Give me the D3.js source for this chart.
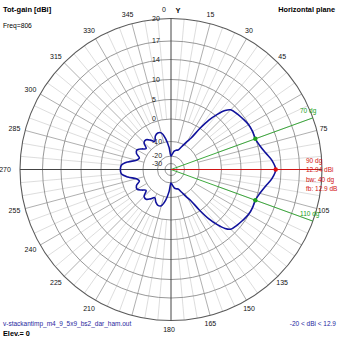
<!DOCTYPE html>
<html>
<head>
<meta charset="utf-8">
<script src="https://cdn.jsdelivr.net/npm/d3@7"></script>
<style>
  html, body { margin: 0; padding: 0; background: #fff; }
  svg { display: block; font-family: "Liberation Sans", Arial, sans-serif; }
</style>
</head>
<body>
<script>
// Horizontal-plane radiation pattern, total gain in dBi (0 deg = Y, clockwise).
const azimuth = [0, 5, 10, 15, 20, 25, 30, 32.5, 35, 37.5, 40, 42.5, 45, 50, 55, 60, 65, 70, 75, 80, 85, 90,
  95, 100, 105, 110, 115, 120, 125, 130, 135, 137.5, 140, 142.5, 145, 147.5, 150, 155, 160, 165, 170, 175,
  180, 185, 190, 195, 200, 205, 210, 215, 220, 225, 230, 235, 240, 245, 250, 255, 260, 265,
  270, 275, 280, 285, 290, 295, 300, 305, 310, 315, 320, 325, 330, 335, 340, 345, 350, 355];
const gainDbi = [-20, -18.5, -16.5, -15.5, -15, -12, -8, -6, -0.5, 3, 5.5, 7.5, 8.6, 9.1, 9.5, 9.9, 10.0, 9.94, 10.4, 11.2, 12.3, 12.94,
  12.3, 11.2, 10.4, 9.94, 10.0, 9.9, 9.5, 9.1, 8.6, 7.5, 5.5, 3, -0.5, -6, -8, -12, -15, -15.5, -16.5, -18.5,
  -20, -14, -8.5, -5.8, -5.5, -6.5, -8, -6.5, -5.2, -5.5, -8, -6.5, -5, -5.5, -7.5, -6.5, -3, -0.3,
  0.04, -0.3, -3, -6.5, -7.5, -5.5, -5, -6.5, -8, -5.5, -5.2, -6.5, -8, -6, -5.2, -5.6, -8.5, -14];

// Grid rings (dBi) and azimuth tick labels
const ringLabels = [20, 17, 14, 10, 5, 0, -10, -20, -30];
const angleLabels = [15, 30, 45, 75, 105, 135, 150, 165, 180, 210, 225, 240, 255, 270, 285, 300, 315, 330, 345];

// Beam summary
const maxDir = 90, maxGain = 12.94;
const beamEdges = [70, 110], edgeGain = 9.94;
const summary = ["90 dg", "12.94 dBi", "bw: 40 dg", "fb: 12.9 dB"];

const W = 339, H = 339, cx = 171, cy = 169.5, R = 151;

const svg = d3.select("body").append("svg").attr("width", W).attr("height", H);
svg.append("rect").attr("width", W).attr("height", H).attr("fill", "#fff");

// Log-like radial gain scale of the plot
const r = d3.scaleLinear()
  .domain([-30, -20, -10, 0, 5, 10, 14, 17, 20])
  .range([6, 13.5, 28, 50.5, 70, 90, 110, 128.5, R])
  .clamp(true);

const g = svg.append("g").attr("transform", `translate(${cx},${cy})`);
const rad = a => (a - 90) * Math.PI / 180;
const px = (a, rr) => rr * Math.cos(rad(a));
const py = (a, rr) => rr * Math.sin(rad(a));

// Minor radials every 5 deg
g.append("g").selectAll("line")
  .data(d3.range(0, 360, 5).filter(a => a % 15 !== 0))
  .join("line")
  .attr("x1", a => px(a, r(0))).attr("y1", a => py(a, r(0)))
  .attr("x2", a => px(a, R)).attr("y2", a => py(a, R))
  .attr("stroke", "#d4d4d4").attr("stroke-width", 0.8);

// Major radials every 15 deg
g.append("g").selectAll("line")
  .data(d3.range(0, 360, 15).filter(a => a % 90 !== 0))
  .join("line")
  .attr("x1", a => px(a, r(-10))).attr("y1", a => py(a, r(-10)))
  .attr("x2", a => px(a, R)).attr("y2", a => py(a, R))
  .attr("stroke", "#9a9a9a").attr("stroke-width", 0.8);

// Rings
g.append("g").selectAll("circle")
  .data(ringLabels.slice(1))
  .join("circle")
  .attr("r", d => r(d))
  .attr("fill", "none").attr("stroke", "#8c8c8c").attr("stroke-width", 0.9);

g.append("circle").attr("r", R).attr("fill", "none").attr("stroke", "#5a5a5a").attr("stroke-width", 1.1);

// Main axes
g.append("line").attr("x1", -R).attr("x2", R).attr("y1", 0).attr("y2", 0)
  .attr("stroke", "#444").attr("stroke-width", 1);
g.append("line").attr("x1", 0).attr("x2", 0).attr("y1", -R).attr("y2", R)
  .attr("stroke", "#444").attr("stroke-width", 1);

// Ring labels
g.append("g").selectAll("text")
  .data(ringLabels)
  .join("text")
  .attr("x", -19).attr("y", d => -r(d))
  .attr("dy", "0.35em")
  .attr("font-size", 7).attr("fill", "#222")
  .text(d => d);

// Azimuth labels
g.append("g").selectAll("text")
  .data(angleLabels)
  .join("text")
  .attr("x", a => px(a, a === 270 ? 164 : 160) - 2)
  .attr("y", a => py(a, 160))
  .attr("text-anchor", "middle").attr("dy", "0.35em")
  .attr("font-size", 7).attr("fill", "#111")
  .text(a => a);
svg.append("text").attr("x", 164).attr("y", 12).attr("text-anchor", "middle")
  .attr("font-size", 7).attr("fill", "#111").text("0");
svg.append("text").attr("x", 178).attr("y", 13).attr("text-anchor", "middle")
  .attr("font-size", 7.5).attr("font-weight", "bold").attr("fill", "#111").text("Y");

// Beam-width and max-gain direction lines
g.append("g").selectAll("line")
  .data(beamEdges)
  .join("line")
  .attr("x1", 0).attr("y1", 0)
  .attr("x2", a => px(a, R)).attr("y2", a => py(a, R))
  .attr("stroke", "#28a028").attr("stroke-width", 0.9);
g.append("line").attr("x1", 0).attr("y1", 0)
  .attr("x2", px(maxDir, 146)).attr("y2", py(maxDir, 146))
  .attr("stroke", "#e01010").attr("stroke-width", 0.9);

// Pattern
const pts = azimuth.map((a, i) => [a * Math.PI / 180, r(gainDbi[i])]);
g.append("path")
  .attr("d", d3.lineRadial().curve(d3.curveCatmullRomClosed.alpha(0.5))(pts))
  .attr("fill", "none").attr("stroke", "#10129c").attr("stroke-width", 1.6);

// Markers
g.append("g").selectAll("circle")
  .data(beamEdges)
  .join("circle")
  .attr("cx", a => px(a, r(edgeGain))).attr("cy", a => py(a, r(edgeGain)))
  .attr("r", 2.2).attr("fill", "#20a020");
g.append("circle").attr("cx", px(maxDir, r(maxGain))).attr("cy", py(maxDir, r(maxGain)))
  .attr("r", 2.2).attr("fill", "#e01010");

// Beam labels
svg.append("text").attr("x", 300).attr("y", 113).attr("font-size", 6.5).attr("fill", "#20a020").text(beamEdges[0] + " dg");
svg.append("text").attr("x", 300).attr("y", 216).attr("font-size", 6.5).attr("fill", "#20a020").text(beamEdges[1] + " dg");
svg.append("g").selectAll("text")
  .data(summary)
  .join("text")
  .attr("x", 306).attr("y", (d, i) => 163 + i * 9.3)
  .attr("font-size", 6.5).attr("fill", "#d01010")
  .text(d => d);

// Titles and footers
svg.append("text").attr("x", 3).attr("y", 12).attr("font-size", 7.5).attr("font-weight", "bold").text("Tot-gain [dBi]");
svg.append("text").attr("x", 3).attr("y", 28).attr("font-size", 6.7).text("Freq=806");
svg.append("text").attr("x", 335).attr("y", 12).attr("text-anchor", "end").attr("font-size", 7.3).attr("font-weight", "bold").text("Horizontal plane");
svg.append("text").attr("x", 3).attr("y", 326).attr("font-size", 6.5).attr("fill", "#2828a0").text("v-stackantimp_m4_9_5x9_bs2_dar_ham.out");
svg.append("text").attr("x", 3).attr("y", 336).attr("font-size", 7.3).attr("font-weight", "bold").text("Elev.= 0");
svg.append("text").attr("x", 336).attr("y", 326).attr("text-anchor", "end").attr("font-size", 6.5).attr("fill", "#2828a0").text("-20 < dBi < 12.9");
</script>
</body>
</html>
